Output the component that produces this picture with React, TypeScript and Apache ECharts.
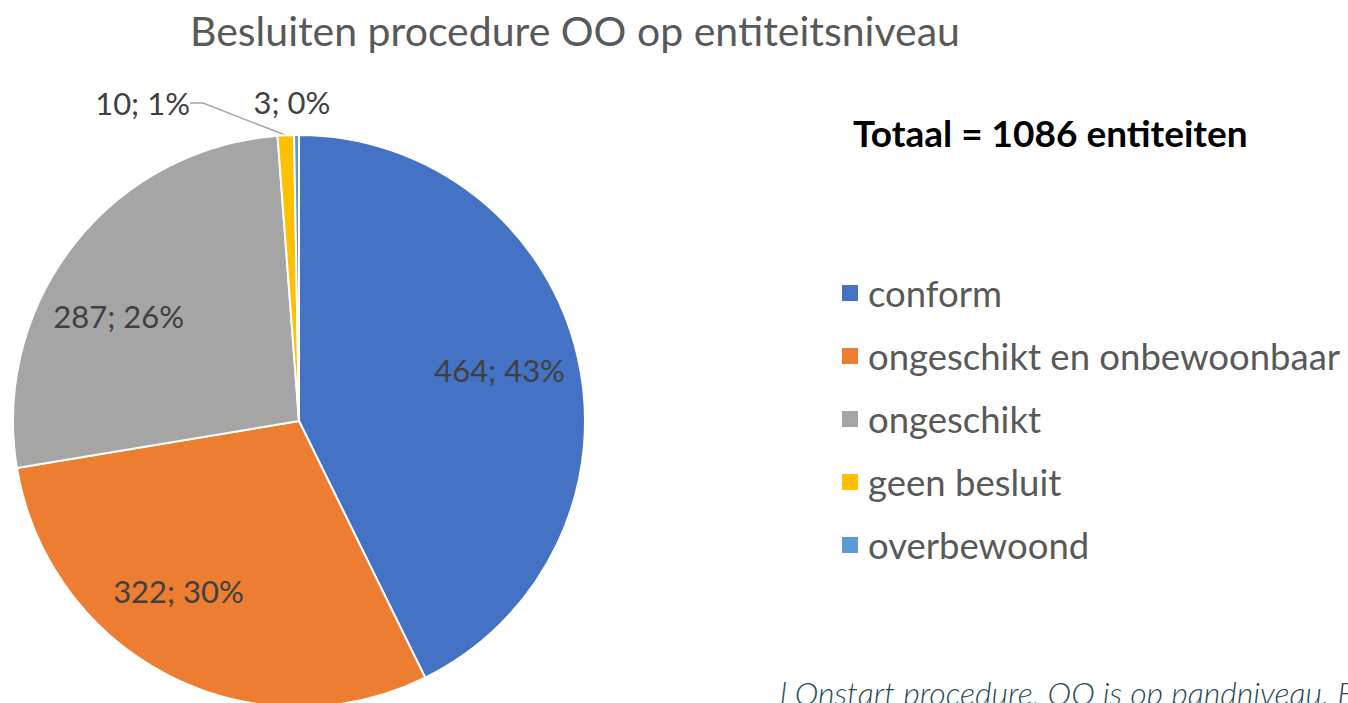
import React, { useEffect, useRef } from "react";
import * as echarts from "echarts";

const categories = ["conform", "ongeschikt en onbewoonbaar", "ongeschikt", "geen besluit", "overbewoond"];
const values = [464, 322, 287, 10, 3];
const percents = ["43%", "30%", "26%", "1%", "0%"];
const colors = ["#4472C4", "#ED7D31", "#A5A5A5", "#FFC000", "#5B9BD5"];
const titleText = "Besluiten procedure OO op entiteitsniveau";
const totalText = "Totaal = 1086 entiteiten";
const footText = "l Onstart procedure, OO is op pandniveau. E";

const FONT = "Lato";

export default function App() {
  const ref = useRef<HTMLDivElement>(null);
  useEffect(() => {
    document.body.style.margin = "0";
    const chart = echarts.init(ref.current!, null, { renderer: "svg" });
    const labelFor = (i: number) => `${values[i]}; ${percents[i]}`;
    const mainData = categories.map((name, i) => ({
      name,
      value: values[i],
      itemStyle: { color: colors[i] },
      label: i >= 3 ? { show: true, position: "outside", formatter: labelFor(i) } : { show: false },
      labelLine: i === 3 ? { show: true, length: 20, length2: 13 } : { show: false },
    }));
    const labelData = categories.map((name, i) => ({
      name,
      value: values[i],
      label: i < 3 ? { show: true, formatter: labelFor(i) } : { show: false },
    }));
    chart.setOption({
      animation: false,
      backgroundColor: "#ffffff",
      title: {
        text: titleText,
        left: 185,
        top: 5,
        textStyle: { fontFamily: FONT, fontSize: 41, fontWeight: "normal", color: "#595959" },
      },
      legend: {
        orient: "vertical",
        left: 835,
        top: 268,
        icon: "rect",
        itemWidth: 18,
        itemHeight: 18,
        itemGap: 23,
        data: categories,
        textStyle: { fontFamily: FONT, fontSize: 36.5, color: "#595959", lineHeight: 40, padding: [0, 0, 0, 4] },
      },
      graphic: [
        {
          type: "text",
          left: 853,
          top: 114,
          style: { text: totalText, fontFamily: FONT, fontSize: 37, fontWeight: "bold", fill: "#000000" },
        },
        {
          type: "text",
          left: 780,
          top: 676,
          style: { text: footText, fontFamily: FONT, fontSize: 32, fontStyle: "italic", fontWeight: 300, fill: "#2A4B5B" },
        },
      ],
      series: [
        {
          type: "pie",
          center: [299, 421],
          radius: 286,
          startAngle: 90,
          clockwise: true,
          avoidLabelOverlap: false,
          itemStyle: { borderColor: "#ffffff", borderWidth: 2 },
          label: { fontFamily: FONT, fontSize: 31, color: "#404040" },
          labelLine: { lineStyle: { color: "#A6A6A6", width: 1.5 } },
          labelLayout: (p: any) => {
            if (p.dataIndex === 3) return { x: 190, y: 103, align: "right", verticalAlign: "middle" };
            if (p.dataIndex === 4) return { x: 292, y: 102, align: "center", verticalAlign: "middle" };
            return {};
          },
          emphasis: { disabled: true },
          data: mainData,
        },
        {
          type: "pie",
          center: [299, 421],
          radius: [126, 286],
          startAngle: 90,
          clockwise: true,
          silent: true,
          avoidLabelOverlap: false,
          itemStyle: { color: "rgba(0,0,0,0)", borderWidth: 0 },
          label: { position: "inside", fontFamily: FONT, fontSize: 31, color: "#404040" },
          labelLine: { show: false },
          labelLayout: (p: any) => {
            if (p.dataIndex === 0) return { dx: -3, dy: -4 };
            if (p.dataIndex === 1) return { dx: -25, dy: -16 };
            if (p.dataIndex === 2) return { dx: -16, dy: 24 };
            return {};
          },
          emphasis: { disabled: true },
          data: labelData,
        },
      ],
    });
    return () => chart.dispose();
  }, []);
  return <div ref={ref} style={{ width: 1348, height: 703 }} />;
}
